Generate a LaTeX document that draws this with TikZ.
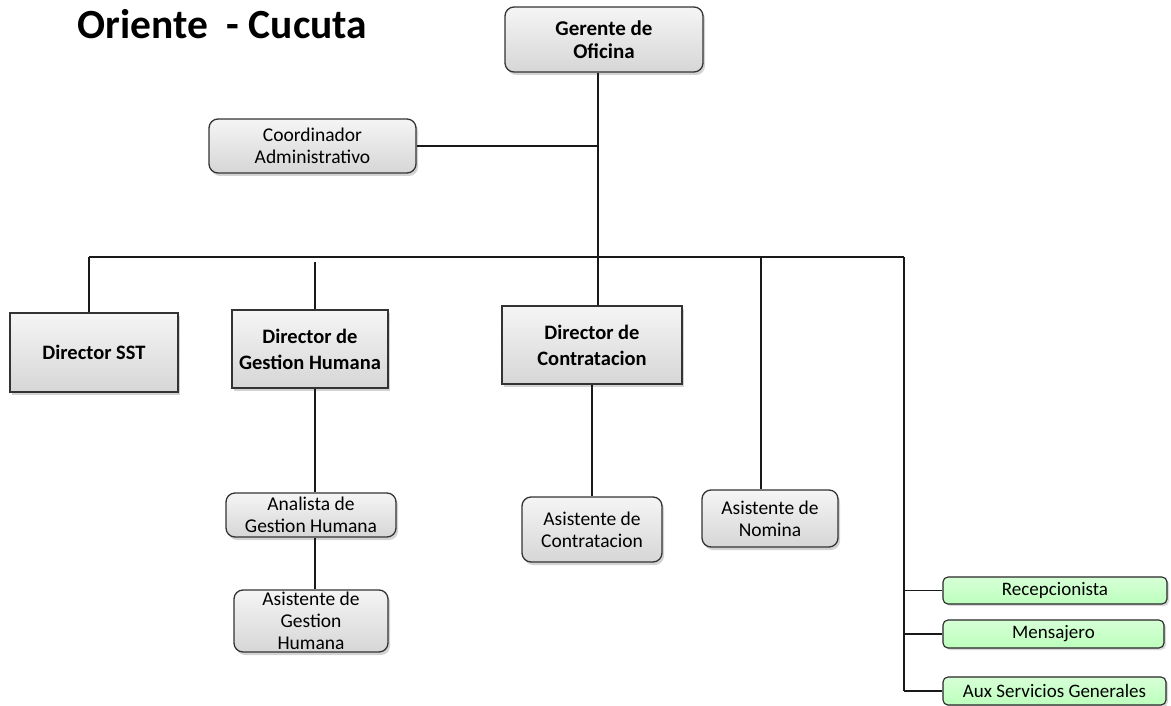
\documentclass[tikz,border=0pt]{standalone}
\usepackage{fontspec}
\setmainfont{Carlito}
\usetikzlibrary{shadows}

\begin{document}
\begin{tikzpicture}[x=1pt,y=-1pt,
    jefe/.style={draw=black!80,line width=1.3pt,top color=gray!8,bottom color=gray!32,
        drop shadow={opacity=.35,shadow xshift=2pt,shadow yshift=-3pt},
        align=center,inner sep=0pt,font=\fontsize{20.5}{26}\selectfont\bfseries},
    cargo/.style={jefe,rounded corners=9pt,font=\fontsize{19.5}{22}\selectfont},
    apoyo/.style={draw=black!85,line width=1.1pt,rounded corners=5pt,top color=green!16,bottom color=green!26,
        drop shadow={opacity=.3,shadow xshift=2pt,shadow yshift=-2pt},
        inner sep=0pt,font=\fontsize{19}{20}\selectfont},
    enlace/.style={line width=1.4pt,black!90}]
    \useasboundingbox (0,0) rectangle (1171,706);
    \node[anchor=base west,font=\fontsize{41.5}{44}\selectfont\bfseries] (titulo) at (74,39) {Oriente\ \ - Cucuta};
    % cargos
    \node[jefe,rounded corners=9pt,minimum width=198pt,minimum height=65pt,font=\fontsize{21}{23}\selectfont\bfseries] (gerente) at (604,39.5) {Gerente de\\Oficina};
    \node[cargo,minimum width=207pt,minimum height=54pt] (coord) at (312.5,146) {Coordinador\\Administrativo};
    \node[jefe,minimum width=168pt,minimum height=79pt] (sst) at (94,352.5) {Director SST};
    \node[jefe,minimum width=156pt,minimum height=78pt] (dgh) at (310,349) {Director de\\Gestion Humana};
    \node[jefe,minimum width=180pt,minimum height=78pt] (dcon) at (592,345) {Director de\\Contratacion};
    \node[cargo,minimum width=170pt,minimum height=44pt] (analista) at (311,515) {Analista de\\Gestion Humana};
    \node[cargo,minimum width=154pt,minimum height=62pt] (agh) at (311,621) {Asistente de\\Gestion\\Humana};
    \node[cargo,minimum width=140pt,minimum height=65pt] (acon) at (592,529.5) {Asistente de\\Contratacion};
    \node[cargo,minimum width=136pt,minimum height=57pt] (anom) at (770,518.5) {Asistente de\\Nomina};
    \node[apoyo,minimum width=224pt,minimum height=27pt] (recep) at (1055,590.5) {Recepcionista};
    \node[apoyo,minimum width=221pt,minimum height=28pt] (mens) at (1053.5,634) {Mensajero};
    \node[apoyo,minimum width=223pt,minimum height=28pt] (aux) at (1054.5,691) {Aux Servicios Generales};
    % puntos del bus
    \coordinate (izq) at (89,257);
    \coordinate (tronco) at (598,257);
    \coordinate (der) at (904,257);
    \coordinate (gh) at (315,262);
    \coordinate (nom) at (761,257);
    % lineas
    \draw[enlace] (gerente.south -| tronco) -- (tronco);
    \draw[enlace] (coord.east) -- (coord.east -| tronco);
    \draw[enlace] (izq) -- (der);
    \draw[enlace] (izq) -- (izq |- sst.north);
    \draw[enlace] (gh) -- (gh |- dgh.north);
    \draw[enlace] (tronco) -- (tronco |- dcon.north);
    \draw[enlace] (nom) -- (nom |- anom.north);
    \draw[enlace] (der) -- (der |- aux);
    \draw[enlace] (dgh.south -| gh) -- (analista.north -| gh);
    \draw[enlace] (analista.south -| gh) -- (agh.north -| gh);
    \draw[enlace] (dcon.south) -- (acon.north);
    \draw[enlace] (der |- recep) -- (recep.west);
    \draw[enlace] (der |- mens) -- (mens.west);
    \draw[enlace] (der |- aux) -- (aux.west);
\end{tikzpicture}
\end{document}
